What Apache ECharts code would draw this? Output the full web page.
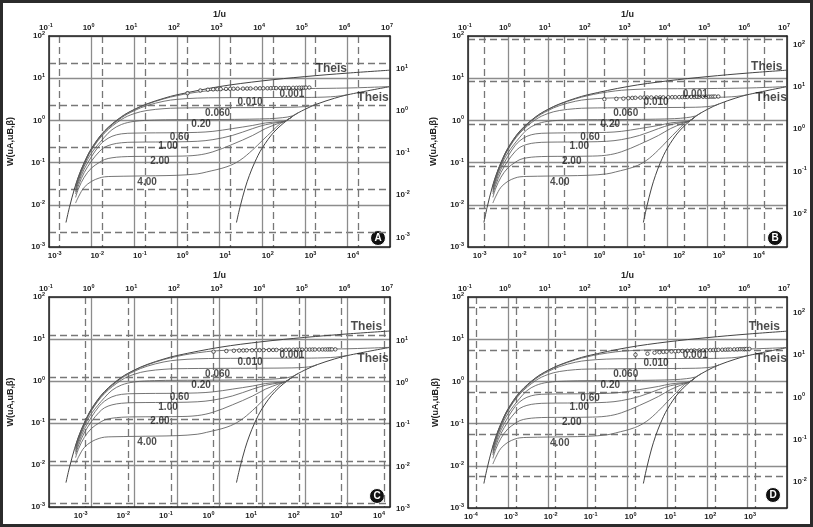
<!DOCTYPE html>
<html>
<head>
<meta charset="utf-8">
<script src="https://cdn.jsdelivr.net/npm/echarts@6/dist/echarts.min.js"></script>
<style>
  html, body { margin: 0; padding: 0; background: #fff; }
  #chart { width: 813px; height: 527px; }
</style>
</head>
<body>
<div id="chart"></div>
<script>
// type curves, read as [1/u, W] on the top and left scales
var theisA = [[0.25,0.0038],[0.3,0.0085],[0.4,0.025],[0.5,0.049],[0.67,0.10],[1,0.22],[2,0.56],[5,1.22],[10,1.82],[20,2.47],[50,3.35],[100,4.04],[1000,6.33],[1e4,8.63],[1e5,10.9],[1e6,13.2],[1e7,15.5]]
var theisB = [[2500,0.0038],[3000,0.0085],[4000,0.025],[5000,0.049],[6670,0.10],[1e4,0.22],[2e4,0.56],[5e4,1.22],[1e5,1.82],[2e5,2.47],[5e5,3.35],[1e6,4.04],[1e7,6.33]]
var beta0001 = [[0.42,0.028],[0.5,0.048],[0.67,0.098],[1,0.215],[2,0.55],[5,1.2],[10,1.79],[20,2.42],[50,3.25],[100,3.85],[200,4.4],[500,5.0],[1000,5.3],[3000,5.55],[1e4,5.62],[1e5,5.68],[1e6,5.85],[3e6,6.05],[1e7,6.33]]
var beta0010 = [[0.42,0.026],[0.5,0.046],[0.67,0.095],[1,0.21],[2,0.53],[5,1.15],[10,1.7],[20,2.25],[50,2.85],[100,3.15],[300,3.38],[1000,3.45],[1e4,3.48],[1e5,3.5],[2e5,3.53],[4e5,3.62],[7e5,3.82],[1e6,4.06]]
var beta0060 = [[0.42,0.024],[0.5,0.043],[0.67,0.09],[1,0.2],[2,0.5],[5,1.05],[10,1.45],[20,1.72],[50,1.9],[100,1.96],[1000,2.0],[1e4,2.02],[5e4,2.05],[1e5,2.12],[1.5e5,2.25],[2e5,2.48]]
var beta020 = [[0.42,0.022],[0.5,0.04],[0.67,0.082],[1,0.17],[2,0.4],[3,0.6],[5,0.8],[10,0.95],[30,1.02],[100,1.04],[1000,1.05],[5000,1.07],[1.5e4,1.1],[3e4,1.16],[5e4,1.27],[7e4,1.52]]
var beta060 = [[0.42,0.02],[0.5,0.035],[0.67,0.07],[1,0.14],[1.5,0.25],[2,0.33],[3,0.42],[5,0.48],[10,0.5],[100,0.51],[300,0.52],[700,0.55],[2000,0.64],[6000,0.76],[1.2e4,0.87],[2.5e4,0.93],[3.5e4,0.97],[5e4,1.22]]
var beta100 = [[0.42,0.018],[0.5,0.03],[0.67,0.058],[1,0.11],[1.5,0.18],[2,0.23],[3,0.27],[5,0.295],[10,0.305],[100,0.31],[300,0.32],[700,0.35],[2000,0.44],[6000,0.64],[1.2e4,0.79],[2.5e4,0.9],[3.5e4,0.96],[5e4,1.22]]
var beta200 = [[0.42,0.015],[0.5,0.025],[0.67,0.045],[1,0.075],[1.5,0.10],[2,0.118],[3,0.13],[5,0.137],[10,0.14],[100,0.142],[300,0.15],[700,0.18],[2000,0.27],[6000,0.44],[1.2e4,0.64],[2.5e4,0.86],[3.5e4,0.96],[5e4,1.22]]
var beta400 = [[0.42,0.011],[0.5,0.016],[0.67,0.026],[1,0.036],[1.5,0.043],[2,0.046],[3,0.047],[10,0.048],[100,0.05],[300,0.054],[500,0.06],[1500,0.08],[3000,0.113],[6000,0.2],[1e4,0.33],[1.8e4,0.58],[2.7e4,0.85],[3.5e4,0.96],[5e4,1.22]]

// curve labels, [1/u, W]
var labelText = ['0.001', '0.010', '0.060', '0.20', '0.60', '1.00', '2.00', '4.00', 'Theis']
var labelX = [5e4, 5200, 900, 370, 115, 62, 40, 20, 4e6]
var labelY = [4.2, 2.75, 1.45, 0.80, 0.40, 0.24, 0.11, 0.035, 3.4]
var theisTopX = [4.2e5, 3.1e6, 2.8e6, 2.7e6]
var theisTopY = [16.8, 18.6, 19.5, 20]

// field data: time and drawdown, on the bottom and right scales
var times = [1,2,3,4,5,6,8,10,12,15,20,25,30,40,50,60,75,90,105,120,150,180,210,240,300,360,420,480,540,600,720]
var drawA = [1.93,2.23,2.33,2.38,2.40,2.41,2.43,2.44,2.45,2.46,2.47,2.48,2.49,2.50,2.51,2.52,2.52,2.53,2.54,2.54,2.55,2.56,2.56,2.57,2.58,2.58,2.59,2.60,2.60,2.61,2.62]
var drawB = [3.83,3.90,3.95,4.05,4.10,4.13,4.16,4.18,4.19,4.20,4.21,4.22,4.23,4.25,4.26,4.27,4.28,4.29,4.30,4.31,4.32,4.33,4.34,4.35,4.36,4.37,4.38,4.39,4.40,4.41,4.42]
var drawC = [4.06,4.20,4.27,4.32,4.35,4.37,4.39,4.41,4.42,4.43,4.45,4.46,4.47,4.48,4.49,4.50,4.51,4.52,4.53,4.53,4.54,4.55,4.56,4.56,4.57,4.58,4.58,4.59,4.60,4.60,4.61]
var drawD = [7.6,8.05,8.5,8.75,8.9,9.0,9.1,9.2,9.3,9.35,9.45,9.5,9.6,9.65,9.7,9.75,9.8,9.85,9.9,9.95,10.0,10.05,10.1,10.1,10.2,10.25,10.3,10.3,10.35,10.4,10.45]

// decade exponents shown on each axis
var topTicks = [-1,0,1,2,3,4,5,6,7]
var leftTicks = [-3,-2,-1,0,1,2]
var bottomTicksA = [-3,-2,-1,0,1,2,3,4]
var bottomTicksB = [-3,-2,-1,0,1,2,3,4]
var bottomTicksC = [-3,-2,-1,0,1,2,3,4]
var bottomTicksD = [-4,-3,-2,-1,0,1,2,3]
var rightTicksA = [-3,-2,-1,0,1]
var rightTicksB = [-2,-1,0,1,2]
var rightTicksC = [-3,-2,-1,0,1]
var rightTicksD = [-2,-1,0,1,2]

var curves = [theisA, theisB, beta0001, beta0010, beta0060, beta020, beta060, beta100, beta200, beta400]
var drawdowns = [drawA, drawB, drawC, drawD]
var bottomTicks = [bottomTicksA, bottomTicksB, bottomTicksC, bottomTicksD]
var rightTicks = [rightTicksA, rightTicksB, rightTicksC, rightTicksD]

var FONT = 'Liberation Sans'
var panels = [
  { left: 49, top: 36, width: 341, height: 211, bx: [-3.25, 4.75], ry: [-3.36, 1.64], gap: 34, letter: 'A', cx: 378, cy: 238 },
  { left: 468, top: 36, width: 319, height: 211, bx: [-3.42, 4.58], ry: [-2.92, 2.08], gap: 30, letter: 'B', cx: 775, cy: 238 },
  { left: 49, top: 297, width: 341, height: 210, bx: [-3.86, 4.14], ry: [-3.09, 1.91], gap: 34, letter: 'C', cx: 377, cy: 496 },
  { left: 468, top: 297, width: 319, height: 211, bx: [-4.2, 3.8], ry: [-2.75, 2.25], gap: 28, letter: 'D', cx: 773, cy: 495 }
]

function lg(v) { return Math.log10(v) }
function pow10(v) { return '{b|10}{s|' + Math.round(v) + '}' }

var rich = {
  b: { fontSize: 8, fontWeight: 'bold', color: '#222', fontFamily: FONT },
  s: { fontSize: 5.5, fontWeight: 'bold', color: '#222', fontFamily: FONT, padding: [0, 0, 5, 0] }
}
var solidGrid = { show: true, lineStyle: { color: '#8c8c8c', width: 1.3 } }
var dashGrid = { show: true, lineStyle: { color: '#777', width: 1.3, type: [7, 4] } }
var border = { show: true, onZero: false, lineStyle: { color: '#222', width: 1.5 } }

var grid = [], xAxis = [], yAxis = [], series = [], graphic = []

panels.forEach(function (p, i) {
  grid.push({ left: p.left, top: p.top, width: p.width, height: p.height })

  xAxis.push({
    gridIndex: i, type: 'value', position: 'top', min: -1, max: 7, interval: 1,
    name: '1/u', nameLocation: 'middle', nameGap: 17,
    nameTextStyle: { fontSize: 9, fontWeight: 'bold', color: '#222', fontFamily: FONT },
    axisLine: border, axisTick: { show: false }, splitLine: solidGrid,
    axisLabel: { margin: 3, padding: [0, 6, 0, 0], formatter: pow10, rich: rich }
  })
  xAxis.push({
    gridIndex: i, type: 'value', position: 'bottom', min: p.bx[0], max: p.bx[1],
    axisLine: border, axisTick: { show: false, customValues: bottomTicks[i] }, splitLine: dashGrid,
    axisLabel: { margin: 3, padding: [0, 10, 0, 0], customValues: bottomTicks[i], formatter: pow10, rich: rich }
  })
  yAxis.push({
    gridIndex: i, type: 'value', position: 'left', min: -3, max: 2, interval: 1,
    name: 'W(uA,uB,β)', nameLocation: 'middle', nameRotate: 90, nameGap: p.gap,
    nameTextStyle: { fontSize: 9, fontWeight: 'bold', color: '#222', fontFamily: FONT },
    axisLine: border, axisTick: { show: false }, splitLine: solidGrid,
    axisLabel: { margin: 4, formatter: pow10, rich: rich }
  })
  yAxis.push({
    gridIndex: i, type: 'value', position: 'right', min: p.ry[0], max: p.ry[1],
    axisLine: border, axisTick: { show: false, customValues: rightTicks[i] }, splitLine: dashGrid,
    axisLabel: { margin: 6, padding: [11, 0, 0, 0], customValues: rightTicks[i], formatter: pow10, rich: rich }
  })

  curves.forEach(function (c, k) {
    series.push({
      type: 'line', xAxisIndex: 2 * i, yAxisIndex: 2 * i, smooth: 0.35,
      showSymbol: false, silent: true, z: 3,
      lineStyle: { color: k < 2 ? '#444' : '#5c5c5c', width: k < 2 ? 1 : 0.85 },
      data: c.map(function (d) { return [lg(d[0]), lg(d[1])] })
    })
  })

  var labels = labelText.map(function (t, k) {
    return { value: [lg(labelX[k]), lg(labelY[k]), t], label: { fontSize: t === 'Theis' ? 12 : 10 } }
  })
  labels.push({ value: [lg(theisTopX[i]), lg(theisTopY[i]), 'Theis'], label: { fontSize: 12 } })
  series.push({
    type: 'scatter', xAxisIndex: 2 * i, yAxisIndex: 2 * i, symbolSize: 0, silent: true, z: 5,
    label: {
      show: true, position: 'inside', fontWeight: 'bold', color: '#1e1e1e', fontFamily: FONT,
      formatter: function (q) { return q.data.value[2] }
    },
    data: labels
  })

  series.push({
    type: 'scatter', xAxisIndex: 2 * i + 1, yAxisIndex: 2 * i + 1, symbol: 'circle', symbolSize: 3.5, silent: true, z: 4,
    itemStyle: { color: '#fff', borderColor: '#333', borderWidth: 1 },
    data: times.map(function (t, k) { return [lg(t), lg(drawdowns[i][k])] })
  })

  graphic.push({
    type: 'group', left: p.cx - 8, top: p.cy - 8, z: 10,
    children: [
      { type: 'circle', shape: { cx: 8, cy: 8, r: 7.5 }, style: { fill: '#111', stroke: '#fff', lineWidth: 1 } },
      { type: 'text', x: 8, y: 8, style: { text: p.letter, fill: '#fff', font: 'bold 10px "Liberation Sans"', align: 'center', verticalAlign: 'middle' } }
    ]
  })
})

graphic.push({ type: 'rect', shape: { x: 1.5, y: 1.5, width: 810, height: 524 }, style: { fill: 'none', stroke: '#2b2b2b', lineWidth: 3 }, z: 20 })

var chart = echarts.init(document.getElementById('chart'))
chart.setOption({
  animation: false,
  backgroundColor: '#fff',
  grid: grid,
  xAxis: xAxis,
  yAxis: yAxis,
  series: series,
  graphic: graphic
})
</script>
</body>
</html>
